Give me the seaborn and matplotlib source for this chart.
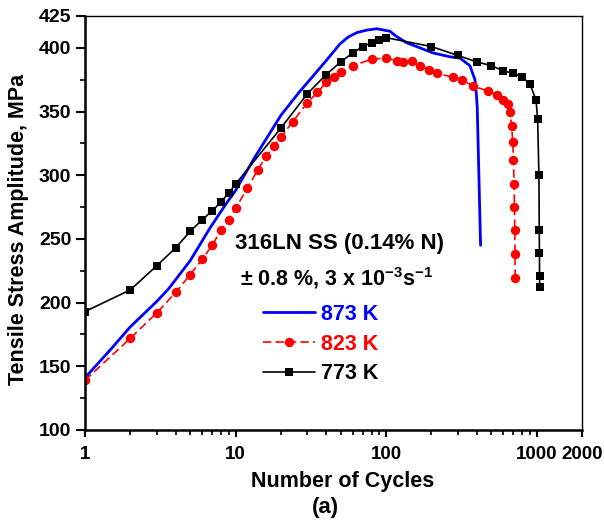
import matplotlib
matplotlib.use("Agg")
import matplotlib.pyplot as plt
import matplotlib.ticker as mticker
import seaborn as sns
import pandas as pd

# ---- data ----
cyc_873 = [1, 1.5, 2, 3, 3.6, 5, 6.8, 8.7, 10, 13.4, 20, 26.8, 32.8, 40, 49.3, 56, 64, 75, 87, 106, 117,
           137, 205, 265, 309, 360, 389, 398, 403, 414, 424]
amp_873 = [141, 164, 181, 201, 211, 233, 259, 278, 288, 314, 347, 366, 378, 390, 403, 408.5, 412, 414, 415,
           413, 409, 404, 396, 393, 392, 386, 375, 363, 353, 296, 245]

cyc_823 = [1, 2, 3, 4, 5, 6, 7, 8, 9, 10, 12, 14, 16, 18, 20, 24, 30, 35, 40, 45, 50, 60, 80, 100,
           118, 130, 148, 168, 192, 218, 277, 317, 378, 477, 542, 598, 645, 664, 681, 694, 700,
           708, 712, 716, 718, 720]
amp_823 = [139, 172, 192, 208, 222, 234, 245, 257, 265, 274, 290, 304, 315, 323, 330, 342, 357, 365,
           373, 377, 381, 386, 391, 392, 390, 389, 390, 386, 383, 380, 377, 375, 370, 366, 363, 359,
           356, 350, 339, 326, 312, 293, 275, 257, 238, 219]

cyc_773 = [1, 2, 3, 4, 5, 6, 7, 8, 9, 10, 20, 30, 40, 50, 60, 70, 80, 90, 100, 200, 300, 400, 500,
           600, 700, 800, 900, 990, 1015, 1035, 1040, 1043, 1045, 1047]
amp_773 = [193, 210, 229, 243, 256, 265, 272, 279, 286, 293, 337, 364, 379, 389, 396, 401, 404, 406,
           408, 401, 394, 389, 386, 382, 380, 377, 372, 359, 344, 300, 257, 239, 221, 212]

labels = ["873 K", "823 K", "773 K"]
x_ticks = [1, 10, 100, 1000, 2000]
x_tick_labels = ["1", "10", "100", "1000", "2000"]
y_ticks = [100, 150, 200, 250, 300, 350, 400, 425]
y_minor = [125, 175, 225, 275, 325, 375]

sns.set_style("ticks")
plt.rcParams["font.family"] = ["Liberation Sans", "DejaVu Sans"]
plt.rcParams["font.weight"] = "bold"
plt.rcParams["text.color"] = "black"
plt.rcParams["axes.labelcolor"] = "black"
plt.rcParams["xtick.color"] = "black"
plt.rcParams["ytick.color"] = "black"
plt.rcParams["mathtext.fontset"] = "custom"
plt.rcParams["mathtext.bf"] = "Liberation Sans:bold"
plt.rcParams["mathtext.rm"] = "Liberation Sans:bold"
plt.rcParams["mathtext.default"] = "bf"

fig = plt.figure(figsize=(6.04, 5.29), dpi=100)
ax = fig.add_axes([85 / 604, 1 - 430 / 529, 497 / 604, 414 / 529])

df873 = pd.DataFrame({"N": cyc_873, "S": amp_873})
df823 = pd.DataFrame({"N": cyc_823, "S": amp_823})
df773 = pd.DataFrame({"N": cyc_773, "S": amp_773})

sns.lineplot(data=df873, x="N", y="S", ax=ax, color="#0000ff", lw=2.0,
             estimator=None, sort=False, label=labels[0])
sns.lineplot(data=df823, x="N", y="S", ax=ax, color="#ff0000", lw=1.2,
             marker="o", markersize=6.8, markeredgewidth=0, dashes=False,
             estimator=None, sort=False, label=labels[1])
ax.lines[-1].set_dashes((5, 2.5))
sns.lineplot(data=df773, x="N", y="S", ax=ax, color="black", lw=1.2,
             marker="s", markersize=5.8, markeredgewidth=0,
             estimator=None, sort=False, label=labels[2])

ax.set_xscale("log")
ax.set_xlim(1, 2000)
ax.set_ylim(100, 425)
ax.xaxis.set_major_locator(mticker.FixedLocator(x_ticks))
ax.xaxis.set_major_formatter(mticker.FixedFormatter(x_tick_labels))
ax.xaxis.set_minor_locator(mticker.LogLocator(base=10, subs=[2, 3, 4, 5, 6, 7, 8, 9]))
ax.xaxis.set_minor_formatter(mticker.NullFormatter())
ax.yaxis.set_major_locator(mticker.FixedLocator(y_ticks))
ax.yaxis.set_minor_locator(mticker.FixedLocator(y_minor))

ax.tick_params(axis="y", which="major", direction="out", length=6.8, width=1.5,
               labelsize=14, pad=3, colors="black")
ax.tick_params(axis="x", which="major", direction="out", length=5.3, width=1.5,
               labelsize=13.5, pad=6, colors="black")
ax.tick_params(axis="both", which="minor", direction="out", length=3.6, width=1.2)
ax.tick_params(top=False, right=False, which="both")
for lab in ax.get_xticklabels() + ax.get_yticklabels():
    lab.set_fontweight("bold")

for s in ["left", "bottom"]:
    ax.spines[s].set_linewidth(1.8)
for s in ["top", "right"]:
    ax.spines[s].set_linewidth(1.0)
    ax.spines[s].set_visible(True)
for s in ax.spines.values():
    s.set_color("black")

ax.set_ylabel("Tensile Stress Amplitude, MPa", fontsize=15.5, fontweight="bold")
ax.yaxis.set_label_coords((19 - 85) / 497, 0.485)
ax.yaxis.label.set_va("center")
ax.set_xlabel("Number of Cycles", fontsize=15.5, fontweight="bold")
ax.xaxis.set_label_coords((343 - 85) / 497, (430 - 481) / 414)
ax.xaxis.label.set_va("center")

fig.text(325 / 604, 1 - 508 / 529, "(a)", fontsize=16, fontweight="bold",
         ha="center", va="center")

ax.text((235 - 85) / 497, (430 - 243) / 414, "316LN SS (0.14% N)", transform=ax.transAxes,
        fontsize=16, fontweight="bold", ha="left", va="center")
ax.text((240 - 85) / 497, (430 - 278) / 414, r"± 0.8 %, 3 x 10$^{-3}$s$^{-1}$",
        transform=ax.transAxes, fontsize=15.5, fontweight="bold", ha="left", va="center")

leg = ax.legend(loc="upper left", bbox_to_anchor=(263 / 604, 1 - 304 / 529),
                bbox_transform=fig.transFigure, frameon=False,
                handlelength=2.4, handletextpad=0.3, labelspacing=0.4,
                borderpad=0, borderaxespad=0, labelcolor="linecolor",
                prop={"weight": "bold", "size": 15.5})

fig.savefig("out.png", dpi=100, facecolor="white")
